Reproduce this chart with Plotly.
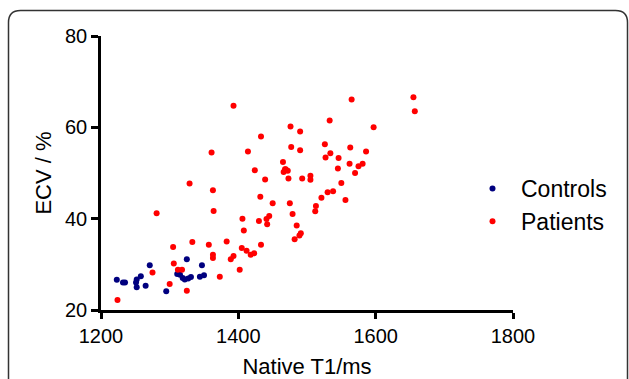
import plotly.graph_objects as go

controls_t1 = [1223, 1232, 1235, 1251, 1252, 1252, 1258, 1265, 1271, 1295,
               1311, 1315, 1319, 1322, 1325, 1327, 1331, 1344, 1347, 1350]
controls_ecv = [26.6, 26.0, 26.0, 26.0, 26.7, 25.0, 27.4, 25.3, 29.8, 24.1,
                27.9, 27.7, 27.0, 26.7, 31.1, 26.9, 27.2, 27.3, 29.8, 27.6]

patients_t1 = [1224, 1275, 1281, 1300, 1305, 1306, 1312, 1318, 1325, 1329,
               1333, 1357, 1361, 1363, 1364, 1363, 1363, 1373, 1383, 1389,
               1393, 1393, 1402, 1405, 1406, 1408, 1412, 1414, 1418, 1423,
               1424, 1430, 1432, 1433, 1433, 1439, 1441, 1442, 1445, 1450,
               1465, 1466, 1468, 1469, 1472, 1473, 1475, 1476, 1477, 1479,
               1482, 1485, 1489, 1490, 1491, 1490, 1493, 1505, 1505, 1512,
               1513, 1521, 1526, 1527, 1530, 1533, 1534, 1538, 1545, 1546,
               1550, 1556, 1562, 1563, 1565, 1570, 1575, 1581, 1586, 1597,
               1655, 1657]
patients_ecv = [22.2, 28.2, 41.2, 25.7, 33.8, 30.2, 28.8, 28.8, 24.2, 47.7,
                34.9, 34.3, 54.5, 46.2, 41.7, 32.1, 31.4, 27.3, 35.0, 31.1,
                31.8, 64.7, 28.8, 33.6, 40.0, 37.4, 33.0, 54.7, 32.1, 32.4,
                50.6, 39.5, 44.8, 58.0, 34.3, 48.6, 39.9, 38.8, 40.6, 43.4,
                52.4, 50.2, 50.8, 50.8, 50.5, 48.8, 43.4, 60.2, 55.7, 41.0,
                35.5, 38.5, 36.3, 55.0, 36.8, 59.1, 48.8, 49.4, 48.5, 41.6,
                42.8, 44.6, 56.3, 53.4, 45.8, 61.5, 54.3, 46.0, 51.0, 53.3,
                47.8, 44.1, 52.0, 55.6, 66.1, 50.0, 51.5, 52.0, 54.7, 60.0,
                66.6, 63.5]

x_ticks = [1200, 1400, 1600, 1800]
y_ticks = [20, 40, 60, 80]

FONT = "Arial, 'Liberation Sans', sans-serif"

fig = go.Figure()
fig.add_trace(go.Scatter(x=controls_t1, y=controls_ecv, mode="markers", name="Controls",
                         marker=dict(color="#00007f", size=6, line=dict(width=0)),
                         cliponaxis=False))
fig.add_trace(go.Scatter(x=patients_t1, y=patients_ecv, mode="markers", name="Patients",
                         marker=dict(color="#ff0000", size=6, line=dict(width=0)),
                         cliponaxis=False))

L, R, T, B = 101, 116, 36, 69
W, H = 629, 379
pw, ph = W - L - R, H - T - B


def px(x):
    return (x - L) / pw


def py(y):
    return (H - B - y) / ph


# rounded frame around the figure
x0, y0, x1, rad = 8.5, 10.5, 627.5, 12
path = (f"M {px(x0)},{py(H + 5)} L {px(x0)},{py(y0 + rad)} "
        f"Q {px(x0)},{py(y0)} {px(x0 + rad)},{py(y0)} "
        f"L {px(x1 - rad)},{py(y0)} Q {px(x1)},{py(y0)} {px(x1)},{py(y0 + rad)} "
        f"L {px(x1)},{py(H + 5)}")

fig.update_layout(
    template="none",
    width=W, height=H,
    margin=dict(l=L, r=R, t=T, b=B, autoexpand=False),
    paper_bgcolor="white", plot_bgcolor="white",
    font=dict(family=FONT, color="black"),
    showlegend=True,
    legend=dict(x=px(464), y=py(205), xanchor="left", yanchor="middle",
                font=dict(size=23, family=FONT), itemwidth=47,
                bgcolor="rgba(0,0,0,0)", borderwidth=0, tracegroupgap=0),
    shapes=[dict(type="path", xref="paper", yref="paper", path=path,
                 line=dict(color="#333333", width=1.5))],
    xaxis=dict(range=[1200, 1800], tickvals=x_ticks, showgrid=False, zeroline=False,
               automargin=False,
               showline=True, linecolor="black", linewidth=2.5,
               ticks="outside", ticklen=6, tickwidth=2.5, tickcolor="black",
               tickfont=dict(size=20, family=FONT),
               title=dict(text="Native T1/ms", font=dict(size=22, family=FONT), standoff=13)),
    yaxis=dict(range=[20, 80], tickvals=y_ticks, showgrid=False, zeroline=False,
               automargin=False,
               showline=True, linecolor="black", linewidth=2.5,
               ticks="outside", ticklen=7, tickwidth=2.5, tickcolor="black",
               tickfont=dict(size=20, family=FONT),
               title=dict(text="ECV / %", font=dict(size=22, family=FONT), standoff=8)),
)

fig.write_html("out.html", config={"displayModeBar": False},
               post_script="document.body.style.margin='0';")
